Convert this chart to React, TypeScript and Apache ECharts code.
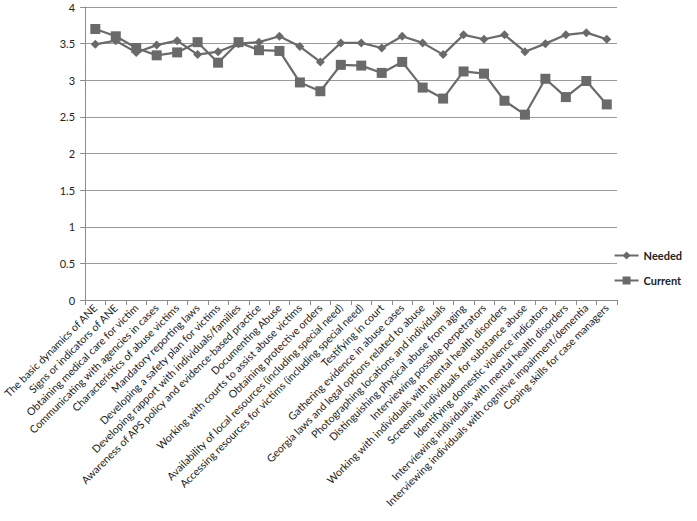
import React, { useEffect, useRef } from "react";
import * as echarts from "echarts";

const categories = [
  "The basic dynamics of ANE",
  "Signs or indicators of ANE",
  "Obtaining medical care for victim",
  "Communicating with agencies in cases",
  "Characteristics of abuse victims",
  "Mandatory reporting laws",
  "Developing a safety plan for victims",
  "Developing rapport with individuals/families",
  "Awareness of APS policy and evidence-based practice",
  "Documenting Abuse",
  "Working with courts to assist abuse victims",
  "Obtaining protective orders",
  "Availability of local resources (including special need)",
  "Accessing resources for victims (including special need)",
  "Testifying in court",
  "Gathering evidence in abuse cases",
  "Georgia laws and legal options related to abuse",
  "Photographing locations and individuals",
  "Distinguishing physical abuse from aging",
  "Interviewing possible perpetrators",
  "Working with individuals with mental health disorders",
  "Screening individuals for substance abuse",
  "Identifying domestic violence indicators",
  "Interviewing individuals with mental health disorders",
  "Interviewing individuals with cognitive impairment/dementia",
  "Coping skills for case managers",
];

const needed = [
  3.49, 3.54, 3.38, 3.48, 3.54, 3.35, 3.39, 3.5, 3.52, 3.6, 3.46, 3.25, 3.51,
  3.51, 3.44, 3.6, 3.51, 3.35, 3.62, 3.56, 3.62, 3.39, 3.5, 3.62, 3.65, 3.56,
];

const current = [
  3.7, 3.6, 3.44, 3.34, 3.38, 3.52, 3.24, 3.52, 3.41, 3.4, 2.97, 2.85, 3.21,
  3.2, 3.1, 3.25, 2.9, 2.75, 3.12, 3.09, 2.72, 2.53, 3.02, 2.77, 2.99, 2.67,
];

const FONT = "Lato";
const GRAY = "#6a6a6a";

export default function App() {
  const ref = useRef<HTMLDivElement>(null);
  useEffect(() => {
    if (!ref.current) return;
    const chart = echarts.init(ref.current, null, { renderer: "svg" });
    chart.setOption({
      animation: false,
      textStyle: { fontFamily: FONT },
      grid: { left: 83, right: 80, top: 7, bottom: 221, containLabel: false },
      legend: {
        orient: "vertical",
        right: 10,
        top: 245,
        itemWidth: 24,
        itemHeight: 10,
        itemGap: 14,
        textStyle: { fontFamily: FONT, fontSize: 11, color: "#222", fontWeight: "bold" },
        data: ["Needed", "Current"],
      },
      xAxis: {
        type: "category",
        data: categories,
        boundaryGap: true,
        axisLine: { lineStyle: { color: "#8c8c8c" } },
        axisTick: { show: true, length: 5, lineStyle: { color: "#8c8c8c" }, interval: 0 },
        axisLabel: {
          interval: 0,
          rotate: 45,
          fontSize: 10.6,
          color: "#222",
          fontFamily: FONT,
          margin: 6,
        },
      },
      yAxis: {
        type: "value",
        min: 0,
        max: 4,
        interval: 0.5,
        axisLine: { show: true, lineStyle: { color: "#8c8c8c" } },
        axisTick: { show: true, length: 5, lineStyle: { color: "#8c8c8c" } },
        axisLabel: { fontSize: 11, color: "#222", fontFamily: FONT, margin: 10 },
        splitLine: { lineStyle: { color: "#9a9a9a" } },
      },
      series: [
        {
          name: "Needed",
          type: "line",
          data: needed,
          symbol: "diamond",
          symbolSize: 9,
          lineStyle: { color: GRAY, width: 2.2 },
          itemStyle: { color: GRAY },
        },
        {
          name: "Current",
          type: "line",
          data: current,
          symbol: "rect",
          symbolSize: 10,
          lineStyle: { color: GRAY, width: 2.2 },
          itemStyle: { color: GRAY },
        },
      ],
    });
    return () => chart.dispose();
  }, []);
  return <div ref={ref} style={{ width: 697, height: 521, position: "absolute", left: 0, top: 0 }} />;
}
